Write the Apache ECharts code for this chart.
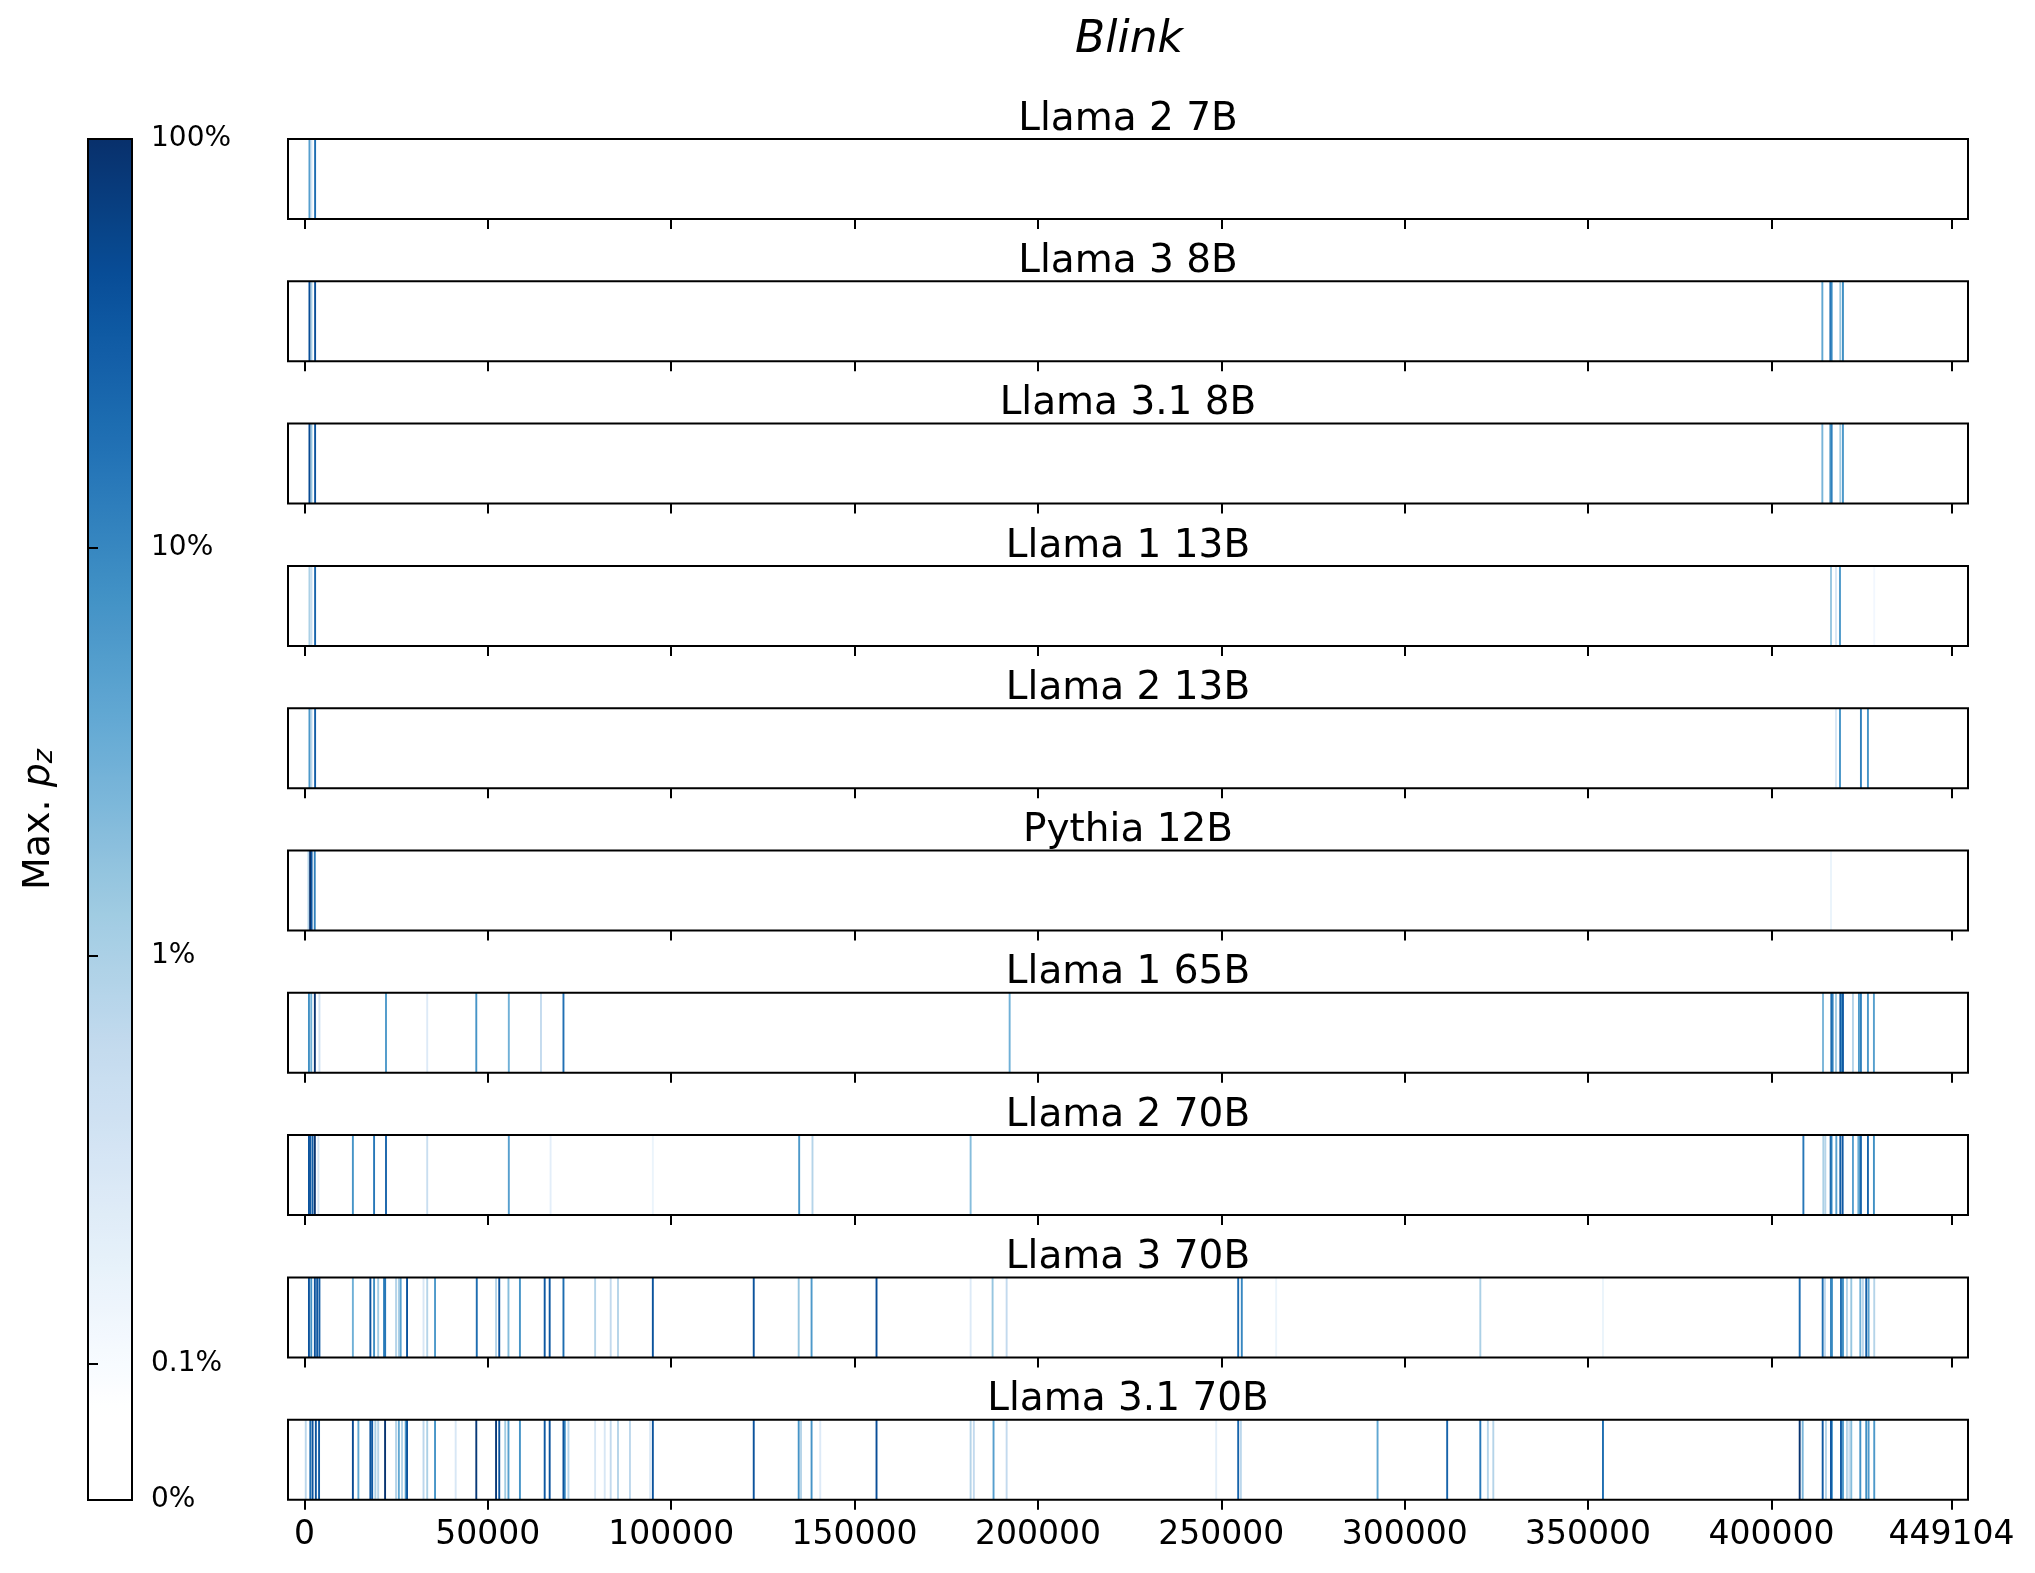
<!DOCTYPE html>
<html><head><meta charset="utf-8">
<script src="https://cdn.jsdelivr.net/npm/echarts@6/dist/echarts.min.js"></script>
<style>html,body{margin:0;padding:0;background:#fff}#c{width:2035px;height:1573px}</style>
</head><body><div id="c"></div>
<script>
// ---------------- data ----------------
const chartTitle = 'Blink';
const models = ['Llama 2 7B','Llama 3 8B','Llama 3.1 8B','Llama 1 13B','Llama 2 13B','Pythia 12B','Llama 1 65B','Llama 2 70B','Llama 3 70B','Llama 3.1 70B'];
const docLength = 449104;
const xTickValues = [0,50000,100000,150000,200000,250000,300000,350000,400000,449104];
const cbTickPct = [0, 0.1, 1, 10, 100];
const cbTickLabels = ['0%','0.1%','1%','10%','100%'];

// positions (token offset) and max p_z in percent, per model
const pos_llama2_7b = [1360, 1900, 2900];
const val_llama2_7b = [5, 0.3, 20];
const pos_llama3_8b = [1360, 1900, 2900, 413880, 416060, 416420, 418780, 419500];
const val_llama3_8b = [45, 1.0, 45, 4, 15, 8, 1.5, 8];
const pos_llama31_8b = [1360, 1900, 2900, 413880, 416060, 416420, 418780, 419500];
const val_llama31_8b = [50, 1.5, 40, 2.5, 6, 12, 1.2, 6];
const pos_llama1_13b = [1360, 1900, 2900, 416240, 417600, 418690, 428030];
const val_llama1_13b = [1.0, 0.5, 25, 1.5, 0.3, 6, 0.12];
const pos_llama2_13b = [1360, 1900, 2900, 417600, 418690, 424400, 426310];
const val_llama2_13b = [6, 0.7, 30, 0.3, 7, 12, 7];
const pos_pythia_12b = [1090, 1543, 1950, 2800, 416240];
const val_pythia_12b = [0.8, 95, 35, 12, 0.15];
const pos_llama1_65b = [1220, 1850, 2830, 4080, 22230, 33470, 46850, 55720, 64490, 70620, 192280,
  414060, 416330, 416690, 417600, 418780, 419050, 419500, 422220, 423860, 424400, 426310, 427940];
const val_llama1_65b = [8, 3, 90, 0.4, 6, 0.25, 7, 3, 0.6, 18, 3,
  2.5, 20, 10, 1.2, 30, 6, 35, 0.8, 6, 12, 6, 5];
const pos_llama2_70b = [1220, 1590, 2210, 2830, 3800, 13200, 18980, 22230, 33470, 55720, 67110, 94990, 134890, 138520, 181640,
  408710, 414150, 414690, 416130, 416400, 417690, 418780, 419410, 422220, 423680, 424040, 424400, 426310, 427940];
const val_llama2_70b = [40, 35, 30, 90, 0.3, 7, 15, 25, 0.5, 5, 0.2, 0.15, 6, 0.8, 2,
  15, 1.0, 0.8, 20, 7, 5, 30, 35, 5, 2.5, 6, 25, 25, 8];
const pos_llama3_70b = [1220, 1850, 2830, 3460, 4080, 13200, 17970, 18980, 20100, 21700, 22000, 24970, 25730, 26230, 27970,
  32460, 33470, 35600, 46980, 52240, 53110, 55620, 58750, 65500, 66860, 70620, 79250, 83500, 85490, 94990,
  122500, 134760, 138270, 155980, 181640, 187630, 191460, 254600, 255580, 264950, 320620, 354060,
  407700, 413970, 414600, 416230, 416500, 418960, 419500, 420590, 421770, 424230, 424940, 425850, 426490, 428030];
const val_llama3_70b = [40, 8, 40, 35, 30, 3, 40, 8, 1.2, 12, 15, 0.8, 1.0, 5, 40,
  0.3, 0.8, 6, 20, 0.8, 40, 2, 7, 35, 35, 20, 0.8, 0.6, 0.8, 40,
  40, 1.5, 6, 45, 0.25, 1.5, 0.6, 20, 10, 0.15, 1.0, 0.15,
  20, 20, 0.6, 10, 8, 20, 8, 0.8, 1.5, 3, 0.7, 30, 5, 0.8];
const pos_llama31_70b = [350, 1590, 2210, 3100, 3980, 13200, 14700, 17970, 18460, 19330, 20100, 21980, 24970, 25730, 26600, 27600, 27970,
  32460, 33470, 35600, 41230, 46850, 52240, 53110, 54740, 55620, 58750, 65500, 66860, 70620, 71000, 71980,
  79250, 81870, 83500, 85490, 88750, 94230, 94990, 122500, 134760, 135390, 138270, 140640, 155980,
  181640, 182520, 187890, 191460, 248600, 254600, 255330, 292600, 311580, 320620, 322680, 324160, 354060,
  407700, 408520, 413970, 414870, 416230, 416500, 418960, 419500, 420590, 421230, 421770, 424230, 425850, 426490, 428030];
const val_llama31_70b = [0.7, 20, 40, 40, 35, 50, 4, 40, 35, 1.0, 0.8, 90, 0.8, 4, 0.8, 6, 40,
  0.7, 1.0, 7, 0.3, 80, 80, 40, 1.2, 5, 7, 35, 40, 40, 6, 0.8,
  0.3, 0.3, 0.6, 0.8, 0.7, 0.25, 40, 40, 7, 0.8, 7, 0.25, 45,
  0.8, 0.6, 5, 0.6, 0.2, 25, 0.7, 4, 25, 15, 0.8, 0.8, 20,
  90, 2.5, 35, 0.8, 35, 6, 35, 6, 0.8, 0.5, 2, 8, 8, 6, 6];

const positions = [pos_llama2_7b, pos_llama3_8b, pos_llama31_8b, pos_llama1_13b, pos_llama2_13b, pos_pythia_12b, pos_llama1_65b, pos_llama2_70b, pos_llama3_70b, pos_llama31_70b];
const values = [val_llama2_7b, val_llama3_8b, val_llama31_8b, val_llama1_13b, val_llama2_13b, val_pythia_12b, val_llama1_65b, val_llama2_70b, val_llama3_70b, val_llama31_70b];

// ---------------- scale helpers ----------------
const LIN = 0.1; // percent, symlog threshold
function toT(p){ return p < LIN ? (p / LIN) / 3 : 1/3 + Math.log10(p / LIN); }
const T_MAX = toT(100);
const bluesStops = [[247,251,255],[222,235,247],[198,219,239],[158,202,225],[107,174,214],[66,146,198],[33,113,181],[8,81,156],[8,48,107]];
function blues(f){
  f = Math.max(0, Math.min(1, f));
  const s = f * 8, i = Math.min(7, Math.floor(s)), r = s - i;
  const a = bluesStops[i], b = bluesStops[i+1];
  const c = a.map((v,k)=>Math.round(v + (b[k]-v)*r));
  return 'rgb(' + c.join(',') + ')';
}
const cmap = [];
for (let i = 0; i <= 30; i++) {
  const t = i / 9;
  cmap.push(t < 1/3 - 1e-9 ? '#ffffff' : blues((t - 1/3) / 3));
}

// ---------------- layout ----------------
const FONT = 'DejaVu Sans';
const GL = 288, GW = 1680, GT0 = 139, GSTEP = 142.3, GH = 80;
const XMIN = -docLength * 0.01, XMAX = docLength * 1.01;
const HALF = 260;

const grids = [], xAxes = [], yAxes = [], series = [], titles = [];
titles.push({ text: chartTitle, left: GL + GW/2 - 4, top: 14, textAlign: 'center',
  textStyle: { fontFamily: FONT, fontSize: 44, fontStyle: 'italic', fontWeight: 'normal', color: '#000' } });

models.forEach((m, i) => {
  const top = GT0 + i * GSTEP;
  grids.push({ left: GL, top: top, width: GW, height: GH, show: true, borderColor: '#000', borderWidth: 2, backgroundColor: 'transparent', z: 3 });
  const last = i === models.length - 1;
  xAxes.push({ gridIndex: i, type: 'value', min: XMIN, max: XMAX,
    axisLine: { show: false }, splitLine: { show: false },
    axisTick: { show: true, customValues: xTickValues, length: 10, lineStyle: { color: '#000', width: 2 } },
    axisLabel: { show: last, customValues: xTickValues, formatter: v => String(v), margin: 19,
      fontFamily: FONT, fontSize: 33, color: '#000' } });
  yAxes.push({ gridIndex: i, type: 'value', min: 0, max: 1, show: false });
  titles.push({ text: m, left: GL + GW/2 - 5, top: top - 44, textAlign: 'center',
    textStyle: { fontFamily: FONT, fontSize: 39, fontWeight: 'normal', color: '#000' } });
  const data = positions[i].map((x, k) => [x, toT(values[i][k])]).sort((a, b) => a[1] - b[1]);
  series.push({ type: 'custom', xAxisIndex: i, yAxisIndex: i, clip: true, silent: true, z: 2,
    renderItem: function(params, api){
      const x = api.value(0);
      const a = api.coord([x - HALF, 1]);
      const b = api.coord([x + HALF, 0]);
      return { type: 'rect', shape: { x: a[0], y: a[1], width: Math.max(1, b[0] - a[0]), height: b[1] - a[1] },
        style: { fill: api.visual('color') } };
    },
    data: data });
});

// colorbar frame / ticks
const CBL = 88, CBW = 44, CBT = 139, CBH = 1361;
const cbTickT = cbTickPct.map(toT);
grids.push({ left: CBL, top: CBT, width: CBW, height: CBH, show: true, borderColor: '#000', borderWidth: 2, backgroundColor: 'transparent', z: 10 });
xAxes.push({ gridIndex: 10, type: 'value', min: 0, max: 1, show: false });
yAxes.push({ gridIndex: 10, type: 'value', min: 0, max: T_MAX, position: 'right', z: 10,
  axisLine: { show: true, lineStyle: { color: '#000', width: 2 } }, splitLine: { show: false },
  axisTick: { show: true, customValues: cbTickT, length: 10, lineStyle: { color: '#000', width: 2 } },
  axisLabel: { show: true, customValues: cbTickT, margin: 19, fontFamily: FONT, fontSize: 28, color: '#000',
    formatter: v => { const k = cbTickT.findIndex(t => Math.abs(t - v) < 1e-6); return k >= 0 ? cbTickLabels[k] : ''; } } });
yAxes.push({ gridIndex: 10, type: 'value', min: 0, max: T_MAX, position: 'left',
  axisLine: { show: false }, axisTick: { show: false }, axisLabel: { show: false }, splitLine: { show: false },
  name: '{n|Max. }{p|p}{z|z}', nameLocation: 'middle', nameRotate: 90, nameGap: 30,
  nameTextStyle: { fontFamily: FONT, fontSize: 38, color: '#000',
    rich: { n: { fontFamily: FONT, fontSize: 38, color: '#000', lineHeight: 38 },
            p: { fontFamily: FONT, fontSize: 38, fontStyle: 'italic', color: '#000', lineHeight: 38 },
            z: { fontFamily: FONT, fontSize: 27, fontStyle: 'italic', color: '#000', verticalAlign: 'bottom', lineHeight: 18 } } } });

const chart = echarts.init(document.getElementById('c'), null, { renderer: 'canvas' });
chart.setOption({
  animation: false,
  backgroundColor: '#fff',
  title: titles,
  grid: grids,
  xAxis: xAxes,
  yAxis: yAxes,
  visualMap: [{ type: 'continuous', min: 0, max: T_MAX, dimension: 1, seriesIndex: models.map((_, i) => i),
    inRange: { color: cmap }, calculable: false, hoverLink: false, orient: 'vertical',
    left: CBL, top: CBT, itemWidth: CBW, itemHeight: CBH, padding: 0, text: null,
    textStyle: { color: 'rgba(0,0,0,0)' }, z: 4 }],
  series: series
});
</script></body></html>
